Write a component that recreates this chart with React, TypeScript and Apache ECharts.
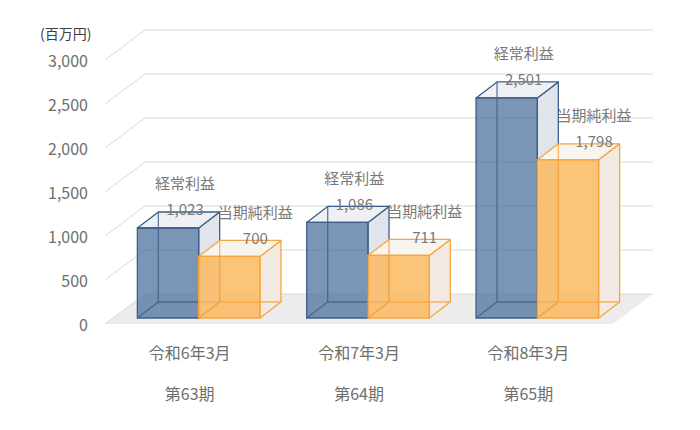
import React, { useEffect, useRef } from "react";
import * as echarts from "echarts";

const categories = ["令和6年3月", "令和7年3月", "令和8年3月"];
const periods = ["第63期", "第64期", "第65期"];
const seriesNames = ["経常利益", "当期純利益"];
const ordinaryProfit = [1023, 1086, 2501];
const netIncome = [700, 711, 1798];
const yTicks = [0, 500, 1000, 1500, 2000, 2500, 3000];

const FONT = "'Noto Sans CJK JP', 'Noto Sans', sans-serif";

// depth offsets (pixels)
const FRONT = [-8, 6];
const BACK = [32, -24];
const BAR_D = [21, -16];

const styles = [
  {
    front: "rgba(68,106,152,0.71)",
    stroke: "#3d5d8a",
    side: "#e1e4ea",
    top: "#eef0f3",
    labelDx: 17,
  },
  {
    front: "rgba(252,186,95,0.85)",
    stroke: "#f7a43c",
    side: "#f2e9e3",
    top: "#f8f4ee",
    labelDx: 26,
  },
];

function makeBarRender(sIdx: number) {
  return (params: any, api: any) => {
    const i = api.value(0);
    const v = api.value(1);
    const top = api.coord([i, v]);
    const base = api.coord([i, 0]);
    const band = api.size([1, 0])[0];
    const bw = band * 0.362;
    const cx = top[0] + 1;
    const xl = sIdx === 0 ? cx - bw : cx;
    const xr = xl + bw;
    const yt = top[1];
    const yb = base[1];
    const [dx, dy] = BAR_D;
    const st = styles[sIdx];
    const lw = 1.3;
    const children: any[] = [
      {
        type: "polygon",
        shape: { points: [[xr, yb], [xr + dx, yb + dy], [xr + dx, yt + dy], [xr, yt]] },
        style: { fill: st.side, stroke: st.stroke, lineWidth: lw, lineJoin: "round" },
      },
      {
        type: "polygon",
        shape: { points: [[xl, yt], [xl + dx, yt + dy], [xr + dx, yt + dy], [xr, yt]] },
        style: { fill: st.top, stroke: st.stroke, lineWidth: lw, lineJoin: "round" },
      },
      {
        type: "rect",
        shape: { x: xl, y: yt, width: bw, height: yb - yt },
        style: { fill: st.front, stroke: st.stroke, lineWidth: lw },
      },
      {
        type: "polyline",
        shape: { points: [[xl, yb], [xl + dx, yb + dy], [xr + dx, yb + dy]] },
        style: { fill: "none", stroke: st.stroke, lineWidth: lw, opacity: 0.8 },
      },
      {
        type: "line",
        shape: { x1: xl + dx, y1: yb + dy, x2: xl + dx, y2: yt + dy },
        style: { stroke: st.stroke, lineWidth: lw, opacity: 0.8 },
      },
      {
        type: "text",
        style: {
          x: (xl + xr) / 2 + st.labelDx,
          y: yt - 19,
          text: String(v.toLocaleString("en-US")),
          fill: "#7a7a7a",
          font: `15px ${FONT}`,
          align: "center",
          verticalAlign: "middle",
        },
      },
      {
        type: "text",
        style: {
          x: (xl + xr) / 2 + st.labelDx,
          y: yt - 45,
          text: seriesNames[sIdx],
          fill: "#7a7a7a",
          font: `15px ${FONT}`,
          align: "center",
          verticalAlign: "middle",
        },
      },
    ];
    return { type: "group", children };
  };
}

function wallRender(params: any, api: any) {
  const t = api.value(1);
  const p = api.coord([0, t]);
  const band = api.size([1, 0])[0];
  const x0 = p[0] - band / 2;
  const x1 = x0 + band * categories.length;
  const y = p[1];
  const children: any[] = [];
  const gridColor = "#d9d9d9";
  if (t === 0) {
    children.push({
      type: "polygon",
      shape: {
        points: [
          [x0 + FRONT[0], y + FRONT[1]],
          [x1 + FRONT[0], y + FRONT[1]],
          [x1 + BACK[0], y + BACK[1]],
          [x0 + BACK[0], y + BACK[1]],
        ],
      },
      style: { fill: "#ececec" },
    });
  }
  children.push({
    type: "polyline",
    shape: {
      points: [
        [x0 + FRONT[0], y + FRONT[1]],
        [x0 + BACK[0], y + BACK[1]],
        [x1 + BACK[0], y + BACK[1]],
      ],
    },
    style: { fill: "none", stroke: gridColor, lineWidth: 1 },
  });
  return { type: "group", children };
}

export default function App() {
  const ref = useRef<HTMLDivElement>(null);
  useEffect(() => {
    if (!ref.current) return;
    const chart = echarts.init(ref.current, undefined, { renderer: "svg" });
    chart.setOption({
      animation: false,
      backgroundColor: "#ffffff",
      textStyle: { fontFamily: FONT },
      grid: [
        { left: 113, right: 79, top: 54, bottom: 112 },
        { left: 105, right: 87, top: 60, bottom: 106 },
      ],
      xAxis: [
        {
          type: "category",
          gridIndex: 0,
          data: categories,
          show: false,
        },
        {
          type: "category",
          gridIndex: 1,
          data: categories,
          axisLine: { show: false },
          axisTick: { show: false },
          axisLabel: {
            margin: 18,
            color: "#6e6e6e",
            fontSize: 16,
            lineHeight: 20.5,
            fontFamily: FONT,
            formatter: (val: string, idx: number) => `${val}\n\n${periods[idx]}`,
          },
        },
      ],
      yAxis: [
        { type: "value", gridIndex: 0, min: 0, max: 3000, interval: 500, show: false },
        {
          type: "value",
          gridIndex: 1,
          min: 0,
          max: 3000,
          interval: 500,
          axisLine: { show: false },
          axisTick: { show: false },
          splitLine: { show: false },
          axisLabel: {
            margin: 17,
            color: "#6e6e6e",
            fontSize: 16,
            fontFamily: FONT,
            formatter: (v: number) => v.toLocaleString("en-US"),
          },
        },
      ],
      graphic: [
        {
          type: "text",
          left: 40,
          top: 26,
          style: {
            text: "(百万円)",
            fill: "#404040",
            font: `14px ${FONT}`,
          },
        },
      ],
      series: [
        {
          type: "custom",
          name: "wall",
          xAxisIndex: 0,
          yAxisIndex: 0,
          z: 1,
          silent: true,
          renderItem: wallRender,
          data: yTicks.map((t) => [0, t]),
        },
        {
          type: "custom",
          name: seriesNames[0],
          xAxisIndex: 0,
          yAxisIndex: 0,
          z: 2,
          renderItem: makeBarRender(0),
          data: ordinaryProfit.map((v, i) => [i, v]),
        },
        {
          type: "custom",
          name: seriesNames[1],
          xAxisIndex: 0,
          yAxisIndex: 0,
          z: 3,
          renderItem: makeBarRender(1),
          data: netIncome.map((v, i) => [i, v]),
        },
      ],
    });
    return () => chart.dispose();
  }, []);
  return (
    <div
      ref={ref}
      style={{ position: "fixed", left: 0, top: 0, width: 700, height: 430 }}
    />
  );
}
